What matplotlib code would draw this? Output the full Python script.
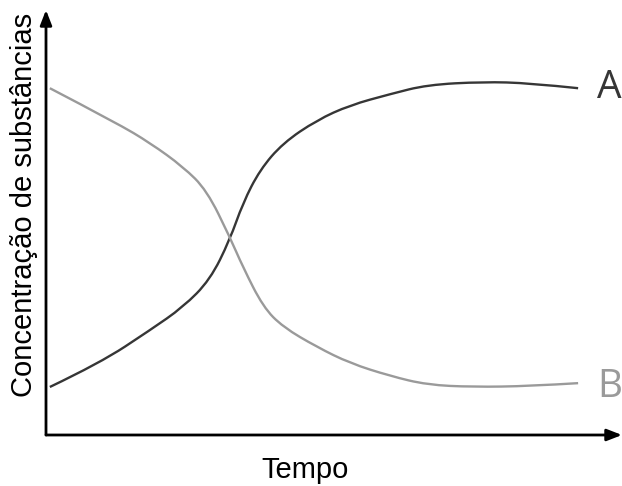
import matplotlib.pyplot as plt
from matplotlib.path import Path
from matplotlib.patches import PathPatch

# Concentration curves (time vs concentration, arbitrary units)
tempo_a = [0.07, 0.98, 1.90, 2.50, 2.99, 3.35, 3.59, 3.90, 4.32, 4.94, 5.54, 6.27, 6.95, 7.97, 8.82, 9.70]
conc_a = [1.13, 1.69, 2.47, 3.01, 3.65, 4.59, 5.46, 6.24, 6.87, 7.41, 7.76, 8.02, 8.24, 8.31, 8.28, 8.16]

tempo_b = [0.07, 1.29, 1.90, 2.50, 2.93, 3.35, 3.59, 3.96, 4.32, 4.94, 5.54, 6.27, 6.95, 7.78, 8.82, 9.70]
conc_b = [8.16, 7.34, 6.87, 6.31, 5.76, 4.66, 3.95, 3.01, 2.54, 2.07, 1.69, 1.39, 1.18, 1.13, 1.15, 1.22]

labels = ['A', 'B']


def smooth_path(xs, ys):
    # quadratic bezier through midpoints, the read points act as control points
    pts = list(zip(xs, ys))
    verts = [pts[0]]
    codes = [Path.MOVETO]
    for i in range(1, len(pts) - 1):
        mid = ((pts[i][0] + pts[i + 1][0]) / 2, (pts[i][1] + pts[i + 1][1]) / 2)
        if i == len(pts) - 2:
            mid = pts[-1]
        verts += [pts[i], mid]
        codes += [Path.CURVE3, Path.CURVE3]
    return Path(verts, codes)


fig = plt.figure(figsize=(6.22, 4.86), dpi=100)
ax = fig.add_axes([46 / 622, 51 / 486, 576 / 622, 425 / 486])
ax.set_xlim(0, 10.5)
ax.set_ylim(0, 10)
ax.axis('off')

ax.add_patch(PathPatch(smooth_path(tempo_a, conc_a), fill=False, edgecolor='#363636', lw=1.7))
ax.add_patch(PathPatch(smooth_path(tempo_b, conc_b), fill=False, edgecolor='#9a9a9a', lw=1.7))

# curve labels at the right end
ax.text(tempo_a[-1] + 0.35, conc_a[-1], labels[0], fontsize=28, color='#363636',
        family='Open Sans', va='center', ha='left')
ax.text(tempo_b[-1] + 0.35, conc_b[-1] - 0.1, labels[1], fontsize=28, color='#9a9a9a',
        family='Open Sans', va='center', ha='left')

# axes with arrow heads
arrow = dict(arrowstyle='-|>,head_length=0.9,head_width=0.35', color='black', lw=2,
             shrinkA=0, shrinkB=0)
ax.annotate('', xy=(0, 1), xytext=(0, 0), xycoords='axes fraction', arrowprops=arrow,
            annotation_clip=False)
ax.annotate('', xy=(1.0, 0), xytext=(0, 0), xycoords='axes fraction', arrowprops=arrow,
            annotation_clip=False)

fig.text(305 / 622, 1 - 470 / 486, 'Tempo', fontsize=21, family='Liberation Sans',
         ha='center', va='center')
fig.text(24 / 622, 1 - 205 / 486, 'Concentração de substâncias', fontsize=21,
         family='Liberation Sans', rotation=90, ha='center', va='center')

fig.savefig('out.png', dpi=100)
